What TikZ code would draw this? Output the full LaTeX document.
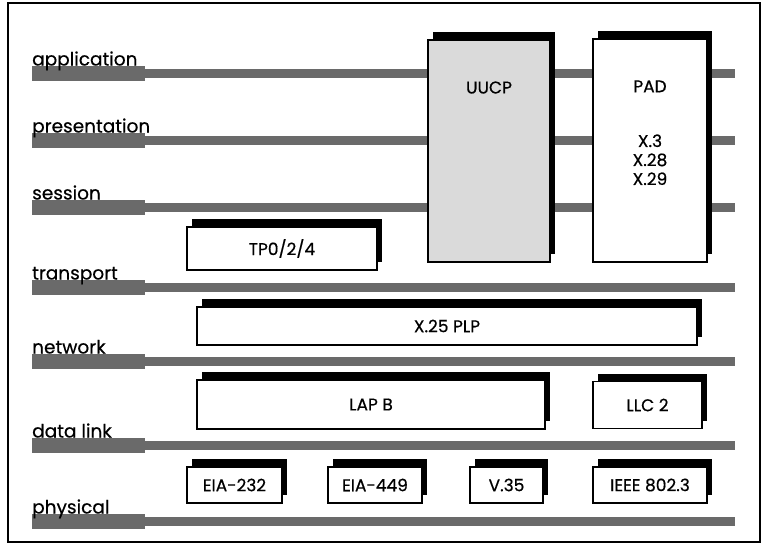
\documentclass[tikz,border=0pt]{standalone}
\usepackage{fontspec}
\setmainfont{Poppins}[FakeBold=0.5]
\usetikzlibrary{positioning,shadows}
\definecolor{dotgray}{HTML}{DADADA}
\definecolor{bandgray}{HTML}{6A6A6A}

\tikzset{
  layerlbl/.style={anchor=base west, inner sep=0pt, font=\fontsize{18.5}{18}\selectfont},
  band/.style={fill=bandgray},
  layerbox/.style={draw, line width=1.5pt, fill=white, inner sep=0pt,
    font=\fontsize{17}{19}\selectfont, align=center,
    drop shadow={shadow xshift=5pt, shadow yshift=8pt, fill=black, opacity=1}},
  boxtext/.style={inner sep=0pt, font=\fontsize{17}{19}\selectfont, align=center}
}

\begin{document}
\begin{tikzpicture}[x=1pt, y=-1pt]
        \useasboundingbox (0,0) rectangle (765,546);
        \draw[line width=1.5pt] (8,3) rectangle (760,542);

        % layer bands with their names
        \foreach \id/\txt/\y in {app/application/73, pres/presentation/140, sess/session/207,
                                 trans/transport/287, net/network/361, dlink/data link/445, phys/physical/521} {
            \fill[band] (32,\y-7.5) rectangle (145,\y+7.5);
            \fill[band] (145,\y-4.5) rectangle (735,\y+4.5);
            \node[layerlbl] (\id) at (32,\y-7.5) {\txt};
        }

        % upper layers
        \node[layerbox, fill=dotgray, minimum width=122pt, minimum height=222pt] (uucp) at (489,151) {};
        \node[boxtext, below=42pt of uucp.north] (uucptxt) {UUCP};
        \node[layerbox, minimum width=114pt, minimum height=223pt] (pad) at (650,150.5) {};
        \node[boxtext, below=42pt of pad.north] (padtxt) {PAD};
        \node[boxtext, below=96pt of pad.north] (padx) {X.3\\X.28\\X.29};

        \node[layerbox, minimum width=190pt, minimum height=43pt] (tp) at (282,248.5) {TP0/2/4};
        \node[layerbox, minimum width=500pt, minimum height=38pt] (plp) at (447,326) {X.25 PLP};

        % data link
        \node[layerbox, minimum width=348pt, minimum height=49pt] (lapb) at (371,404.5) {LAP B};
        \node[layerbox, minimum width=109pt, minimum height=47pt] (llc) at (647.5,405) {LLC 2};

        % physical
        \foreach \id/\txt/\x/\w in {eia232/EIA-232/234.5/95, eia449/EIA-449/375/94,
                                   vxxxv/V.35/506.5/73, ieee/IEEE 802.3/650/114} {
            \node[layerbox, minimum width=\w pt, minimum height=36pt] (\id) at (\x,485) {\txt};
        }
    \end{tikzpicture}
\end{document}
